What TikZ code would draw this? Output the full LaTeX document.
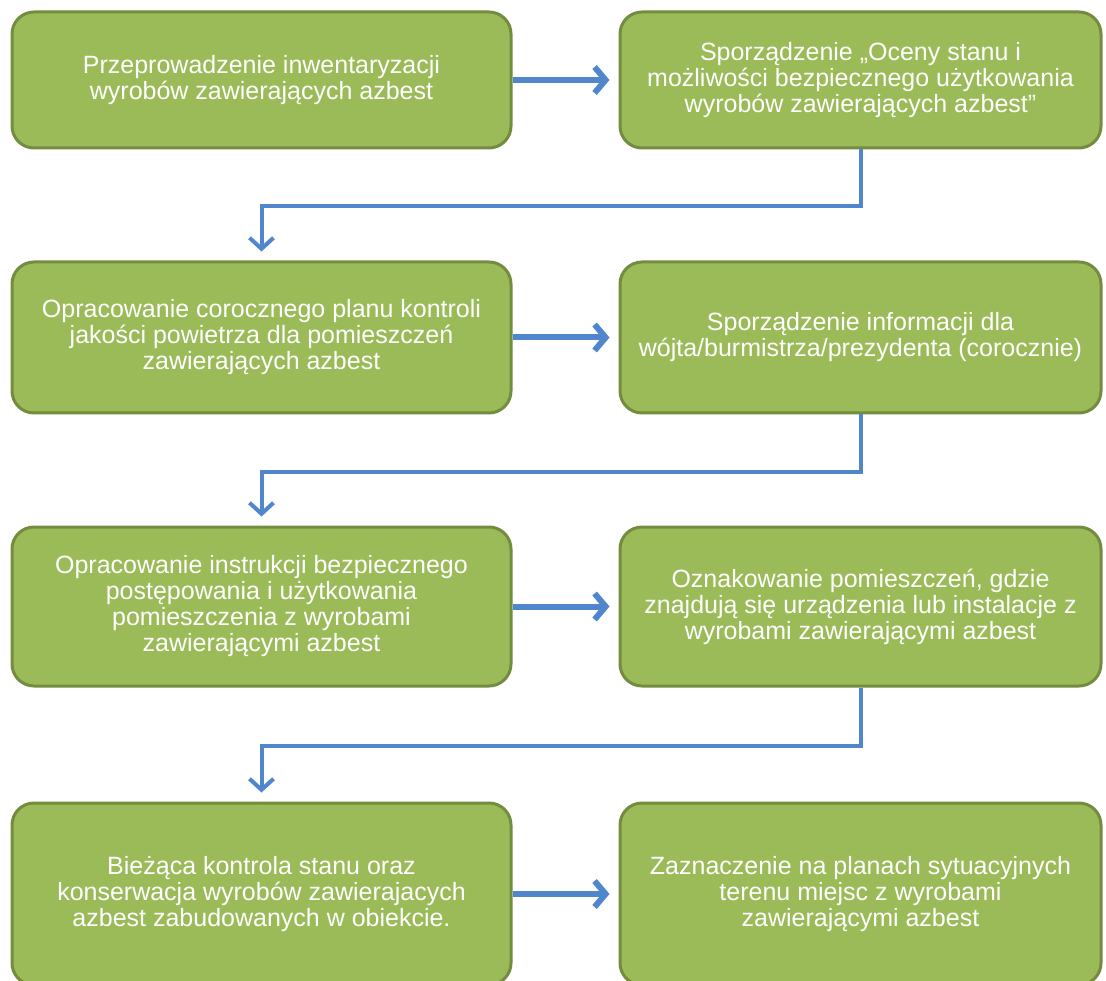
\documentclass[tikz,border=0pt]{standalone}
\usepackage{fontspec}
\setmainfont{Liberation Sans}
\usetikzlibrary{arrows.meta}
\definecolor{boxgreen}{HTML}{9BBB59}
\definecolor{boxedge}{HTML}{738C40}
\definecolor{linkblue}{HTML}{4F86CC}

\begin{document}
\begin{tikzpicture}[
    x=1pt, y=1pt,
    box/.style={draw=boxedge, line width=3pt, fill=boxgreen, rounded corners=22pt,
        text=white, align=center, inner sep=0pt,
        font=\fontsize{25}{26}\selectfont},
    leftbox/.style={box, minimum width=499pt},
    rightbox/.style={box, minimum width=481pt},
    flow/.style={draw=linkblue, line width=6pt, shorten >=9pt,
        -{Straight Barb[length=11pt, width=26pt]}},
    link/.style={draw=linkblue, line width=4pt, shorten >=9pt,
        -{Straight Barb[length=11pt, width=24pt]}}
]
    % Page
    \useasboundingbox (0, 0) rectangle (1106, -981);
    \fill[white] (0, 0) rectangle (1106, -981);

    % Boxes
    \node[leftbox, minimum height=136pt] (inwent) at (261.5, -80) {Przeprowadzenie inwentaryzacji\\wyrobów zawierających azbest};
    \node[rightbox, minimum height=136pt] (ocena) at (860.5, -80) {Sporządzenie „Oceny stanu i\\możliwości bezpiecznego użytkowania\\wyrobów zawierających azbest”};

    \node[leftbox, minimum height=151pt] (plan) at (261.5, -337.5) {Opracowanie corocznego planu kontroli\\jakości powietrza dla pomieszczeń\\zawierających azbest};
    \node[rightbox, minimum height=151pt] (info) at (860.5, -337.5) {Sporządzenie informacji dla\\wójta/burmistrza/prezydenta (corocznie)};

    \node[leftbox, minimum height=159pt] (instr) at (261.5, -606.5) {Opracowanie instrukcji bezpiecznego\\postępowania i użytkowania\\pomieszczenia z wyrobami\\zawierającymi azbest};
    \node[rightbox, minimum height=159pt] (oznak) at (860.5, -606.5) {Oznakowanie pomieszczeń, gdzie\\znajdują się urządzenia lub instalacje z\\wyrobami zawierającymi azbest};

    \node[leftbox, minimum height=182pt] (kontrola) at (261.5, -894) {Bieżąca kontrola stanu oraz\\konserwacja wyrobów zawierajacych\\azbest zabudowanych w obiekcie.};
    \node[rightbox, minimum height=182pt] (plany) at (860.5, -894) {Zaznaczenie na planach sytuacyjnych\\terenu miejsc z wyrobami\\zawierającymi azbest};

    % Arrows across
    \draw[flow] (inwent.east) -- (ocena.west);
    \draw[flow] (plan.east) -- (info.west);
    \draw[flow] (instr.east) -- (oznak.west);
    \draw[flow] (kontrola.east) -- (plany.west);

    % Arrows down to the next row
    \draw[link] (ocena.south) -- ++(0, -57) -| (plan.north);
    \draw[link] (info.south) -- ++(0, -57) -| (instr.north);
    \draw[link] (oznak.south) -- ++(0, -58) -| (kontrola.north);
\end{tikzpicture}
\end{document}
